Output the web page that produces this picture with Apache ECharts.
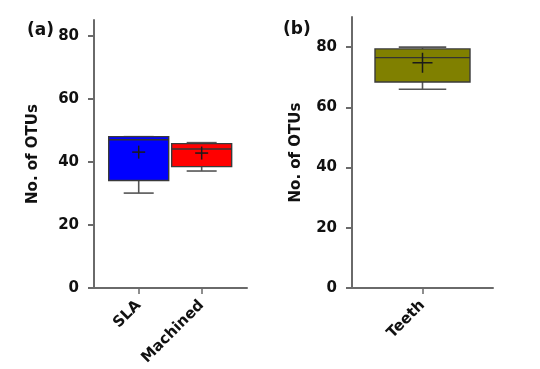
<!DOCTYPE html>
<html>
<head>
<meta charset="utf-8">
<script src="https://cdn.jsdelivr.net/npm/echarts@6/dist/echarts.min.js"></script>
<style>
html,body{margin:0;padding:0;background:#fff;}
#c{width:540px;height:369px;}
</style>
</head>
<body>
<div id="c"></div>
<script>
// ---- data ----
const panelACategories = ['SLA', 'Machined'];
const panelBCategories = ['Teeth'];
const panelAMin    = [30.1, 37.1];
const panelAQ1     = [34.1, 38.5];
const panelAMedian = [47.0, 44.1];
const panelAQ3     = [48.0, 45.8];
const panelAMax    = [48.0, 46.1];
const panelAMean   = [43.1, 42.8];
const panelBMin    = [66.0];
const panelBQ1     = [68.4];
const panelBMedian = [76.5];
const panelBQ3     = [79.4];
const panelBMax    = [80.0];
const panelBMean   = [74.8];
const yTicks = [0, 20, 40, 60, 80];

// ---- styles ----
const FONT = '"DejaVu Sans", Arial, sans-serif';
const AXIS_COLOR = '#6a6a6a';
const colorsA = ['#0000ff', '#ff0000'];
const colorsB = ['#808000'];

function rows(mins, q1, med, q3, max, mean) {
  return mins.map((v, i) => [i + 1, v, q1[i], med[i], q3[i], max[i], mean[i]]);
}

function makeRender(colors, boxPx, crossPx) {
  return function (params, api) {
    const x = api.value(0);
    const pMin = api.coord([x, api.value(1)]);
    const pQ1 = api.coord([x, api.value(2)]);
    const pMed = api.coord([x, api.value(3)]);
    const pQ3 = api.coord([x, api.value(4)]);
    const pMax = api.coord([x, api.value(5)]);
    const pMean = api.coord([x, api.value(6)]);
    const cx = pMed[0];
    const hw = boxPx / 2;
    const cap = boxPx / 4;
    const cs = crossPx / 2;
    const lineStyle = { stroke: '#333', lineWidth: 1.4 };
    const whiskerStyle = { stroke: '#555', lineWidth: 1.6 };
    return {
      type: 'group',
      children: [
        { type: 'line', shape: { x1: cx, y1: pQ3[1], x2: cx, y2: pMax[1] }, style: whiskerStyle },
        { type: 'line', shape: { x1: cx - cap, y1: pMax[1], x2: cx + cap, y2: pMax[1] }, style: whiskerStyle },
        { type: 'line', shape: { x1: cx, y1: pQ1[1], x2: cx, y2: pMin[1] }, style: whiskerStyle },
        { type: 'line', shape: { x1: cx - cap, y1: pMin[1], x2: cx + cap, y2: pMin[1] }, style: whiskerStyle },
        { type: 'rect', shape: { x: cx - hw, y: pQ3[1], width: boxPx, height: pQ1[1] - pQ3[1] },
          style: { fill: colors[params.dataIndex], stroke: '#3a3a3a', lineWidth: 1.4 } },
        { type: 'line', shape: { x1: cx - hw, y1: pMed[1], x2: cx + hw, y2: pMed[1] }, style: lineStyle },
        { type: 'line', shape: { x1: pMean[0] - cs, y1: pMean[1], x2: pMean[0] + cs, y2: pMean[1] }, style: { stroke: '#1a1a1a', lineWidth: 1.5 } },
        { type: 'line', shape: { x1: pMean[0], y1: pMean[1] - cs, x2: pMean[0], y2: pMean[1] + cs }, style: { stroke: '#1a1a1a', lineWidth: 1.5 } }
      ]
    };
  };
}

function yAxisDef(gridIndex, max, nameGap) {
  return {
    type: 'value', gridIndex, min: 0, max: max,
    name: 'No. of OTUs', nameLocation: 'middle', nameRotate: 90, nameGap: nameGap,
    nameTextStyle: { fontFamily: FONT, fontWeight: 'bold', fontSize: 15, color: '#111' },
    axisLine: { show: true, lineStyle: { color: AXIS_COLOR, width: 2 } },
    axisTick: { show: true, length: 6, customValues: yTicks, lineStyle: { color: AXIS_COLOR, width: 2 } },
    axisLabel: { customValues: yTicks, margin: 15, fontFamily: FONT, fontWeight: 'bold', fontSize: 15, color: '#111' },
    splitLine: { show: false }
  };
}

function xAxisDef(gridIndex, min, max, cats) {
  const pos = cats.map((c, i) => i + 1);
  return {
    type: 'value', gridIndex, min: min, max: max,
    axisLine: { show: true, onZero: false, lineStyle: { color: AXIS_COLOR, width: 2 } },
    axisTick: { show: true, length: 6, customValues: pos, lineStyle: { color: AXIS_COLOR, width: 1.5 } },
    axisLabel: {
      customValues: pos, rotate: 45, margin: 15,
      formatter: v => cats[Math.round(v) - 1] || '',
      fontFamily: FONT, fontWeight: 'bold', fontSize: 15, color: '#111'
    },
    splitLine: { show: false }
  };
}

const chart = echarts.init(document.getElementById('c'), null, { renderer: 'canvas' });
chart.setOption({
  animation: false,
  backgroundColor: '#fff',
  title: [
    { text: '(a)', left: 27, top: 22, padding: 0, textStyle: { fontFamily: FONT, fontWeight: 'bold', fontSize: 17, color: '#111' } },
    { text: '(b)', left: 283, top: 21, padding: 0, textStyle: { fontFamily: FONT, fontWeight: 'bold', fontSize: 17, color: '#111' } }
  ],
  grid: [
    { left: 94, right: 293, top: 20, bottom: 81 },
    { left: 352, right: 47, top: 17, bottom: 81 }
  ],
  xAxis: [
    xAxisDef(0, 0.29, 2.72, panelACategories),
    xAxisDef(1, 0, 2, panelBCategories)
  ],
  yAxis: [
    yAxisDef(0, 85, 53),
    yAxisDef(1, 90, 48)
  ],
  series: [
    {
      type: 'custom', xAxisIndex: 0, yAxisIndex: 0, clip: false,
      encode: { x: 0, y: [1, 2, 3, 4, 5, 6] },
      data: rows(panelAMin, panelAQ1, panelAMedian, panelAQ3, panelAMax, panelAMean),
      renderItem: makeRender(colorsA, 60, 13)
    },
    {
      type: 'custom', xAxisIndex: 1, yAxisIndex: 1, clip: false,
      encode: { x: 0, y: [1, 2, 3, 4, 5, 6] },
      data: rows(panelBMin, panelBQ1, panelBMedian, panelBQ3, panelBMax, panelBMean),
      renderItem: makeRender(colorsB, 95, 20)
    }
  ]
});
</script>
</body>
</html>
